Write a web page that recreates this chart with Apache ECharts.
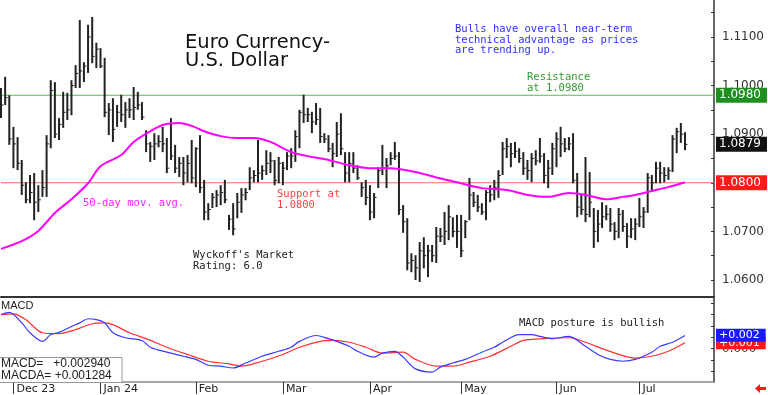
<!DOCTYPE html>
<html><head><meta charset="utf-8">
<script src="https://cdn.jsdelivr.net/npm/echarts@6/dist/echarts.min.js"></script>
<style>html,body{margin:0;padding:0;background:#fff}#c{width:768px;height:395px}</style>
</head><body><div id="c"></div>
<script>
// ---- categories (weekday sessions) ----
const startDate = [2023, 10, 28];
const categoryCount = 173;
const monthLabels = {'2023-12':'Dec 23','2024-01':'Jan 24','2024-02':'Feb','2024-03':'Mar','2024-04':'Apr','2024-05':'May','2024-06':'Jun','2024-07':'Jul'};
const priceTicks = [1.06, 1.07, 1.08, 1.09, 1.10, 1.11];
const priceMinorTicks = [1.06,1.065,1.07,1.075,1.08,1.085,1.09,1.095,1.10,1.105,1.11,1.115];
const macdTicks = [-0.005,-0.0025,0,0.0025,0.005,0.0075,0.01];

// ---- price bars ----
const highs = [1.0995,1.1018,1.0980,1.0915,1.0894,1.0847,1.0801,1.0816,1.0820,1.0795,
1.0826,1.0898,1.1011,1.1007,1.0933,1.0987,1.0985,1.1011,1.1042,1.1135,
1.1048,1.1125,1.1141,1.1088,1.1077,1.1057,1.0964,1.0974,1.0960,1.0981,
1.0966,1.0974,1.0997,1.0987,1.0966,1.0908,1.0884,1.0902,1.0898,1.0915,
1.0892,1.0933,1.0878,1.0853,1.0853,1.0857,1.0888,1.0873,1.0898,1.0806,
1.0758,1.0779,1.0785,1.0795,1.0806,1.0734,1.0758,1.0779,1.0789,1.0789,
1.0832,1.0826,1.0888,1.0836,1.0867,1.0863,1.0847,1.0853,1.0843,1.0863,
1.0871,1.0908,1.0950,1.0981,1.0954,1.0946,1.0964,1.0954,1.0902,1.0898,
1.0882,1.0925,1.0943,1.0863,1.0863,1.0863,1.0836,1.0801,1.0806,1.0795,
1.0779,1.0832,1.0878,1.0851,1.0863,1.0884,1.0863,1.0754,1.0727,1.0655,
1.0651,1.0678,1.0688,1.0672,1.0672,1.0709,1.0707,1.0740,1.0754,1.0729,
1.0734,1.0734,1.0723,1.0810,1.0781,1.0775,1.0758,1.0785,1.0795,1.0806,
1.0826,1.0884,1.0892,1.0882,1.0884,1.0871,1.0863,1.0847,1.0861,1.0867,
1.0892,1.0861,1.0847,1.0882,1.0904,1.0915,1.0892,1.0894,1.0902,1.0820,
1.0775,1.0853,1.0822,1.0748,1.0744,1.0760,1.0754,1.0748,1.0719,1.0748,
1.0744,1.0717,1.0727,1.0727,1.0769,1.0750,1.0820,1.0816,1.0843,1.0843,
1.0832,1.0832,1.0898,1.0913,1.0923,1.0904];
const lows = [1.0933,1.0960,1.0878,1.0830,1.0826,1.0775,1.0758,1.0758,1.0723,1.0740,
1.0771,1.0771,1.0871,1.0892,1.0888,1.0913,1.0929,1.0939,1.0995,1.0995,
1.1007,1.1026,1.1046,1.1036,1.1036,1.0935,1.0898,1.0884,1.0915,1.0925,
1.0913,1.0933,1.0929,1.0950,1.0929,1.0863,1.0843,1.0847,1.0873,1.0863,
1.0820,1.0847,1.0820,1.0812,1.0795,1.0801,1.0799,1.0791,1.0779,1.0723,
1.0723,1.0748,1.0750,1.0754,1.0758,1.0703,1.0692,1.0727,1.0738,1.0764,
1.0785,1.0801,1.0801,1.0806,1.0816,1.0820,1.0795,1.0799,1.0795,1.0826,
1.0830,1.0843,1.0871,1.0923,1.0925,1.0902,1.0919,1.0882,1.0882,1.0863,
1.0832,1.0853,1.0857,1.0801,1.0801,1.0820,1.0806,1.0771,1.0754,1.0723,
1.0727,1.0789,1.0816,1.0789,1.0836,1.0847,1.0734,1.0697,1.0620,1.0616,
1.0600,1.0596,1.0624,1.0606,1.0637,1.0635,1.0678,1.0672,1.0682,1.0688,
1.0666,1.0647,1.0686,1.0723,1.0750,1.0740,1.0734,1.0723,1.0760,1.0764,
1.0769,1.0816,1.0851,1.0832,1.0851,1.0841,1.0816,1.0806,1.0801,1.0836,
1.0841,1.0799,1.0789,1.0816,1.0832,1.0853,1.0863,1.0867,1.0799,1.0729,
1.0734,1.0719,1.0729,1.0666,1.0678,1.0707,1.0723,1.0699,1.0682,1.0686,
1.0699,1.0666,1.0686,1.0682,1.0709,1.0707,1.0738,1.0781,1.0799,1.0799,
1.0801,1.0806,1.0822,1.0861,1.0882,1.0867];
const closes = [1.0960,1.0975,1.0890,1.0880,1.0840,1.0795,1.0765,1.0780,1.0760,1.0765,
1.0790,1.0880,1.0990,1.0900,1.0920,1.0945,1.0950,1.1000,1.1025,1.1030,
1.1040,1.1100,1.1060,1.1075,1.1040,1.0945,1.0950,1.0910,1.0945,1.0940,
1.0950,1.0950,1.0955,1.0960,1.0935,1.0880,1.0875,1.0880,1.0885,1.0880,
1.0830,1.0855,1.0830,1.0840,1.0820,1.0840,1.0810,1.0870,1.0790,1.0740,
1.0745,1.0770,1.0775,1.0780,1.0765,1.0725,1.0705,1.0760,1.0775,1.0780,
1.0810,1.0815,1.0820,1.0825,1.0840,1.0845,1.0805,1.0840,1.0830,1.0855,
1.0855,1.0895,1.0945,1.0940,1.0940,1.0925,1.0930,1.0895,1.0890,1.0870,
1.0860,1.0900,1.0870,1.0820,1.0840,1.0830,1.0810,1.0790,1.0770,1.0740,
1.0770,1.0825,1.0830,1.0835,1.0850,1.0855,1.0745,1.0720,1.0635,1.0640,
1.0625,1.0660,1.0650,1.0660,1.0650,1.0690,1.0690,1.0700,1.0730,1.0700,
1.0700,1.0660,1.0720,1.0775,1.0760,1.0750,1.0740,1.0780,1.0775,1.0790,
1.0815,1.0870,1.0875,1.0860,1.0865,1.0850,1.0830,1.0825,1.0850,1.0845,
1.0855,1.0815,1.0830,1.0870,1.0890,1.0880,1.0870,1.0880,1.0805,1.0750,
1.0745,1.0735,1.0760,1.0700,1.0715,1.0730,1.0735,1.0715,1.0700,1.0735,
1.0710,1.0690,1.0705,1.0715,1.0730,1.0740,1.0810,1.0800,1.0830,1.0820,
1.0815,1.0825,1.0890,1.0905,1.0900,1.0879];

// ---- 50-day moving average [session index, value] ----
const maPoints = [[0,1.0664],[5,1.0680],[9,1.0701],[13,1.0738],[17,1.0766],[21,1.0799],[24,1.0834],
[29,1.0857],[32,1.0884],[36,1.0906],[39,1.0919],[43,1.0923],[46,1.0917],[49,1.0906],[53,1.0896],
[57,1.0892],[61,1.0892],[65,1.0884],[70,1.0863],[75,1.0853],[79,1.0847],[84,1.0836],[89,1.0830],
[94,1.0830],[100,1.0822],[105,1.0811],[110,1.0801],[116,1.0789],[122,1.0785],[127,1.0775],
[132,1.0771],[137,1.0779],[141,1.0775],[146,1.0766],[150,1.0771],[153,1.0775],[157,1.0783],
[161,1.0791],[165,1.0801]];

// ---- MACD panel ----
const macdPoints = [[0,0.0075],[2,0.0080],[5,0.0057],[7,0.0035],[10,0.0016],[12,0.0031],[14,0.0036],
[17,0.0049],[19,0.0057],[21,0.0066],[23,0.0064],[25,0.0057],[27,0.0035],[30,0.0024],[34,0.0018],
[36,0.0003],[40,-0.0008],[44,-0.0017],[47,-0.0024],[50,-0.0037],[53,-0.0039],[56,-0.0043],
[59,-0.0032],[63,-0.0017],[67,-0.0006],[70,0.0003],[72,0.0016],[76,0.0029],[79,0.0022],[81,0.0016],
[84,0.0005],[86,-0.0006],[90,-0.0019],[92,-0.0010],[95,-0.0006],[97,-0.0019],[100,-0.0045],
[104,-0.0052],[106,-0.0041],[109,-0.0032],[112,-0.0024],[116,-0.0008],[119,0.0003],[121,0.0014],
[125,0.0031],[128,0.0031],[130,0.0027],[133,0.0022],[137,0.0027],[141,0.0005],[144,-0.0013],
[147,-0.0024],[150,-0.0028],[153,-0.0024],[157,-0.0008],[159,0.0005],[162,0.0014],[165,0.0029]];
const macdaPoints = [[0,0.0075],[3,0.0077],[6,0.0064],[10,0.0035],[14,0.0033],[18,0.0042],[22,0.0055],
[25,0.0057],[27,0.0053],[31,0.0035],[35,0.0022],[40,0.0003],[45,-0.0013],[50,-0.0028],[55,-0.0034],
[58,-0.0039],[63,-0.0028],[68,-0.0013],[72,0.0003],[77,0.0016],[80,0.0018],[84,0.0014],[88,0.0003],
[92,-0.0010],[97,-0.0008],[100,-0.0024],[105,-0.0039],[109,-0.0039],[113,-0.0030],[118,-0.0017],
[123,0.0005],[126,0.0018],[131,0.0022],[137,0.0024],[141,0.0014],[145,0.0000],[149,-0.0013],
[153,-0.0021],[157,-0.0017],[161,-0.0006],[165,0.0013]];
const macdNow = 0.002940;
const macdaNow = 0.001284;

const resistance = 1.0980;
const support = 1.0800;
const lastClose = closes[closes.length - 1];

// build category list of weekdays
const dates = [];
{
  const d = new Date(Date.UTC(startDate[0], startDate[1], startDate[2]));
  while (dates.length < categoryCount) {
    const wd = d.getUTCDay();
    if (wd !== 0 && wd !== 6) dates.push(d.toISOString().slice(0, 10));
    d.setUTCDate(d.getUTCDate() + 1);
  }
}
const isMonthStart = (i) => i > 0 && dates[i].slice(0, 7) !== dates[i - 1].slice(0, 7);
const barData = highs.map((h, i) => [i, h, lows[i], closes[i]]);
const levelLine = (v) => [[0, v], [dates.length - 1, v]];

const mono = '"DejaVu Sans Mono", monospace';
const sans = '"DejaVu Sans", sans-serif';

const chart = echarts.init(document.getElementById('c'), null, {renderer: 'canvas'});
const boxLabel = (bg, fmt, fs) => ({
  show: true, position: 'end', distance: 2, formatter: fmt,
  color: '#fff', backgroundColor: bg, padding: [1, 6, 1, 3],
  fontFamily: sans, fontSize: fs || 12, lineHeight: fs ? fs : 13
});
const hidden = {color: 'rgba(0,0,0,0)', width: 1, type: 'solid'};

chart.setOption({
  animation: false,
  grid: [
    {left: 1, right: 54, top: 0, height: 297},
    {left: 1, right: 54, top: 298, bottom: 12}
  ],
  xAxis: [
    {type: 'category', gridIndex: 0, data: dates, boundaryGap: false,
     axisLine: {show: true, onZero: false, lineStyle: {color: '#333', width: 2}},
     axisTick: {show: false}, axisLabel: {show: false}, splitLine: {show: false}},
    {type: 'category', gridIndex: 1, data: dates, boundaryGap: false,
     axisLine: {show: true, onZero: false, lineStyle: {color: '#888', width: 1.5}},
     axisTick: {show: true, inside: false, interval: (i) => isMonthStart(i), length: 12, lineStyle: {color: '#333', width: 1}},
     axisLabel: {show: true, interval: (i) => isMonthStart(i), formatter: (v) => monthLabels[v.slice(0, 7)] || '',
       align: 'left', margin: 2, padding: [0, 0, 0, 3], color: '#222', fontFamily: sans, fontSize: 11},
     splitLine: {show: false}}
  ],
  yAxis: [
    {type: 'value', gridIndex: 0, position: 'right', min: 1.0565, max: 1.1176,
     axisLine: {show: true, lineStyle: {color: '#333', width: 1.5}},
     axisTick: {show: true, inside: true, length: 3, customValues: priceMinorTicks, lineStyle: {color: '#333'}},
     axisLabel: {customValues: priceTicks, formatter: (v) => v.toFixed(4), color: '#333', fontFamily: sans, fontSize: 12, margin: 8},
     splitLine: {show: false}},
    {type: 'value', gridIndex: 1, position: 'right', min: -0.0074, max: 0.0112,
     axisLine: {show: true, lineStyle: {color: '#333', width: 1.5}},
     axisTick: {show: true, inside: true, length: 3, customValues: macdTicks, lineStyle: {color: '#333'}},
     axisLabel: {customValues: [0], formatter: () => '0.000', color: '#333', fontFamily: sans, fontSize: 12, margin: 8},
     splitLine: {show: false}}
  ],
  series: [
    {type: 'line', xAxisIndex: 0, yAxisIndex: 0, data: levelLine(resistance), symbol: 'none', z: 1,
     lineStyle: {color: '#55bb55', width: 1.2}},
    {type: 'line', xAxisIndex: 0, yAxisIndex: 0, data: levelLine(support), symbol: 'none', z: 1,
     lineStyle: {color: '#ff6a6a', width: 1.2}},
    {type: 'custom', xAxisIndex: 0, yAxisIndex: 0, data: barData, encode: {x: 0, y: [1, 2, 3]}, z: 2,
     renderItem: function (params, api) {
       const k = api.value(0);
       const pH = api.coord([k, api.value(1)]);
       const pL = api.coord([k, api.value(2)]);
       const pC = api.coord([k, api.value(3)]);
       return {type: 'group', children: [
         {type: 'line', shape: {x1: pH[0], y1: pH[1], x2: pL[0], y2: pL[1]}, style: {stroke: '#222', lineWidth: 2}},
         {type: 'line', shape: {x1: pC[0], y1: pC[1], x2: pC[0] + 2.5, y2: pC[1]}, style: {stroke: '#222', lineWidth: 1}}
       ]};
     }
    },
    {type: 'line', xAxisIndex: 0, yAxisIndex: 0, data: maPoints, smooth: 0.3, symbol: 'none', clip: false,
     lineStyle: {color: '#ff00ff', width: 2}, z: 3,
     markLine: {silent: true, symbol: ['none', 'none'], precision: 4, z: 5,
       data: [
         {yAxis: resistance, lineStyle: hidden, label: boxLabel('#1f8f1f', () => resistance.toFixed(4))},
         {yAxis: support, lineStyle: hidden, label: boxLabel('#ff1a1a', () => support.toFixed(4))},
         {yAxis: lastClose, lineStyle: hidden, label: boxLabel('#111', () => lastClose.toFixed(4))}
       ]}},
    {type: 'line', xAxisIndex: 1, yAxisIndex: 1, data: macdaPoints, smooth: 0.3, symbol: 'none', clip: false,
     lineStyle: {color: '#ff3030', width: 1.2},
     markLine: {silent: true, symbol: ['none', 'none'], precision: 6, data: [{yAxis: macdaNow, lineStyle: hidden,
       label: boxLabel('#ff1a1a', () => '+' + (Math.floor(macdaNow * 1000) / 1000).toFixed(3), 11)}]}},
    {type: 'line', xAxisIndex: 1, yAxisIndex: 1, data: macdPoints, smooth: 0.3, symbol: 'none', clip: false,
     lineStyle: {color: '#3a3aff', width: 1.2},
     markLine: {silent: true, symbol: ['none', 'none'], precision: 6, data: [{yAxis: macdNow, lineStyle: hidden,
       label: boxLabel('#1a1aff', () => '+' + (Math.floor(macdNow * 1000) / 1000).toFixed(3), 11)}]}}
  ],
  graphic: [
    {type: 'text', left: 185, top: 33, style: {text: 'Euro Currency-\nU.S. Dollar', font: '19.5px ' + sans, fill: '#111', lineHeight: 17.5}},
    {type: 'text', left: 455, top: 24, style: {text: 'Bulls have overall near-term\ntechnical advantage as prices\nare trending up.', font: '10.5px ' + mono, fill: '#3030ff', lineHeight: 10.5}},
    {type: 'text', left: 527, top: 72, style: {text: 'Resistance\nat ' + resistance.toFixed(4), font: '10.5px ' + mono, fill: '#2e9b2e', lineHeight: 10.5}},
    {type: 'text', left: 83, top: 198, style: {text: '50-day mov. avg.', font: '10.5px ' + mono, fill: '#ff22ff', lineHeight: 10.5}},
    {type: 'text', left: 277, top: 189, style: {text: 'Support at\n' + support.toFixed(4), font: '10.5px ' + mono, fill: '#ff4040', lineHeight: 10.5}},
    {type: 'text', left: 193, top: 250, style: {text: "Wyckoff's Market\nRating: 6.0", font: '10.5px ' + mono, fill: '#222', lineHeight: 10.5}},
    {type: 'text', left: 519, top: 318, style: {text: 'MACD posture is bullish', font: '10.5px ' + mono, fill: '#222', lineHeight: 10.5}},
    {type: 'text', left: 1, top: 300, style: {text: 'MACD', font: '11px "Liberation Sans", sans-serif', fill: '#222'}},
    {type: 'rect', shape: {x: -1, y: 357.5, width: 123, height: 25}, style: {fill: '#fff', stroke: '#999', lineWidth: 1}, z: 10},
    {type: 'text', left: 1, top: 357, z: 11, style: {text: 'MACD=   +' + macdNow.toFixed(6) + '\nMACDA= +' + macdaNow.toFixed(6), font: '12px "Liberation Sans", sans-serif', fill: '#222', lineHeight: 12.5}},
    {type: 'polygon', shape: {points: [[755, 388.5], [760, 384], [760, 387], [766, 387], [766, 390], [760, 390], [760, 393]]}, style: {fill: '#ff1a1a'}}
  ]
});
</script></body></html>
